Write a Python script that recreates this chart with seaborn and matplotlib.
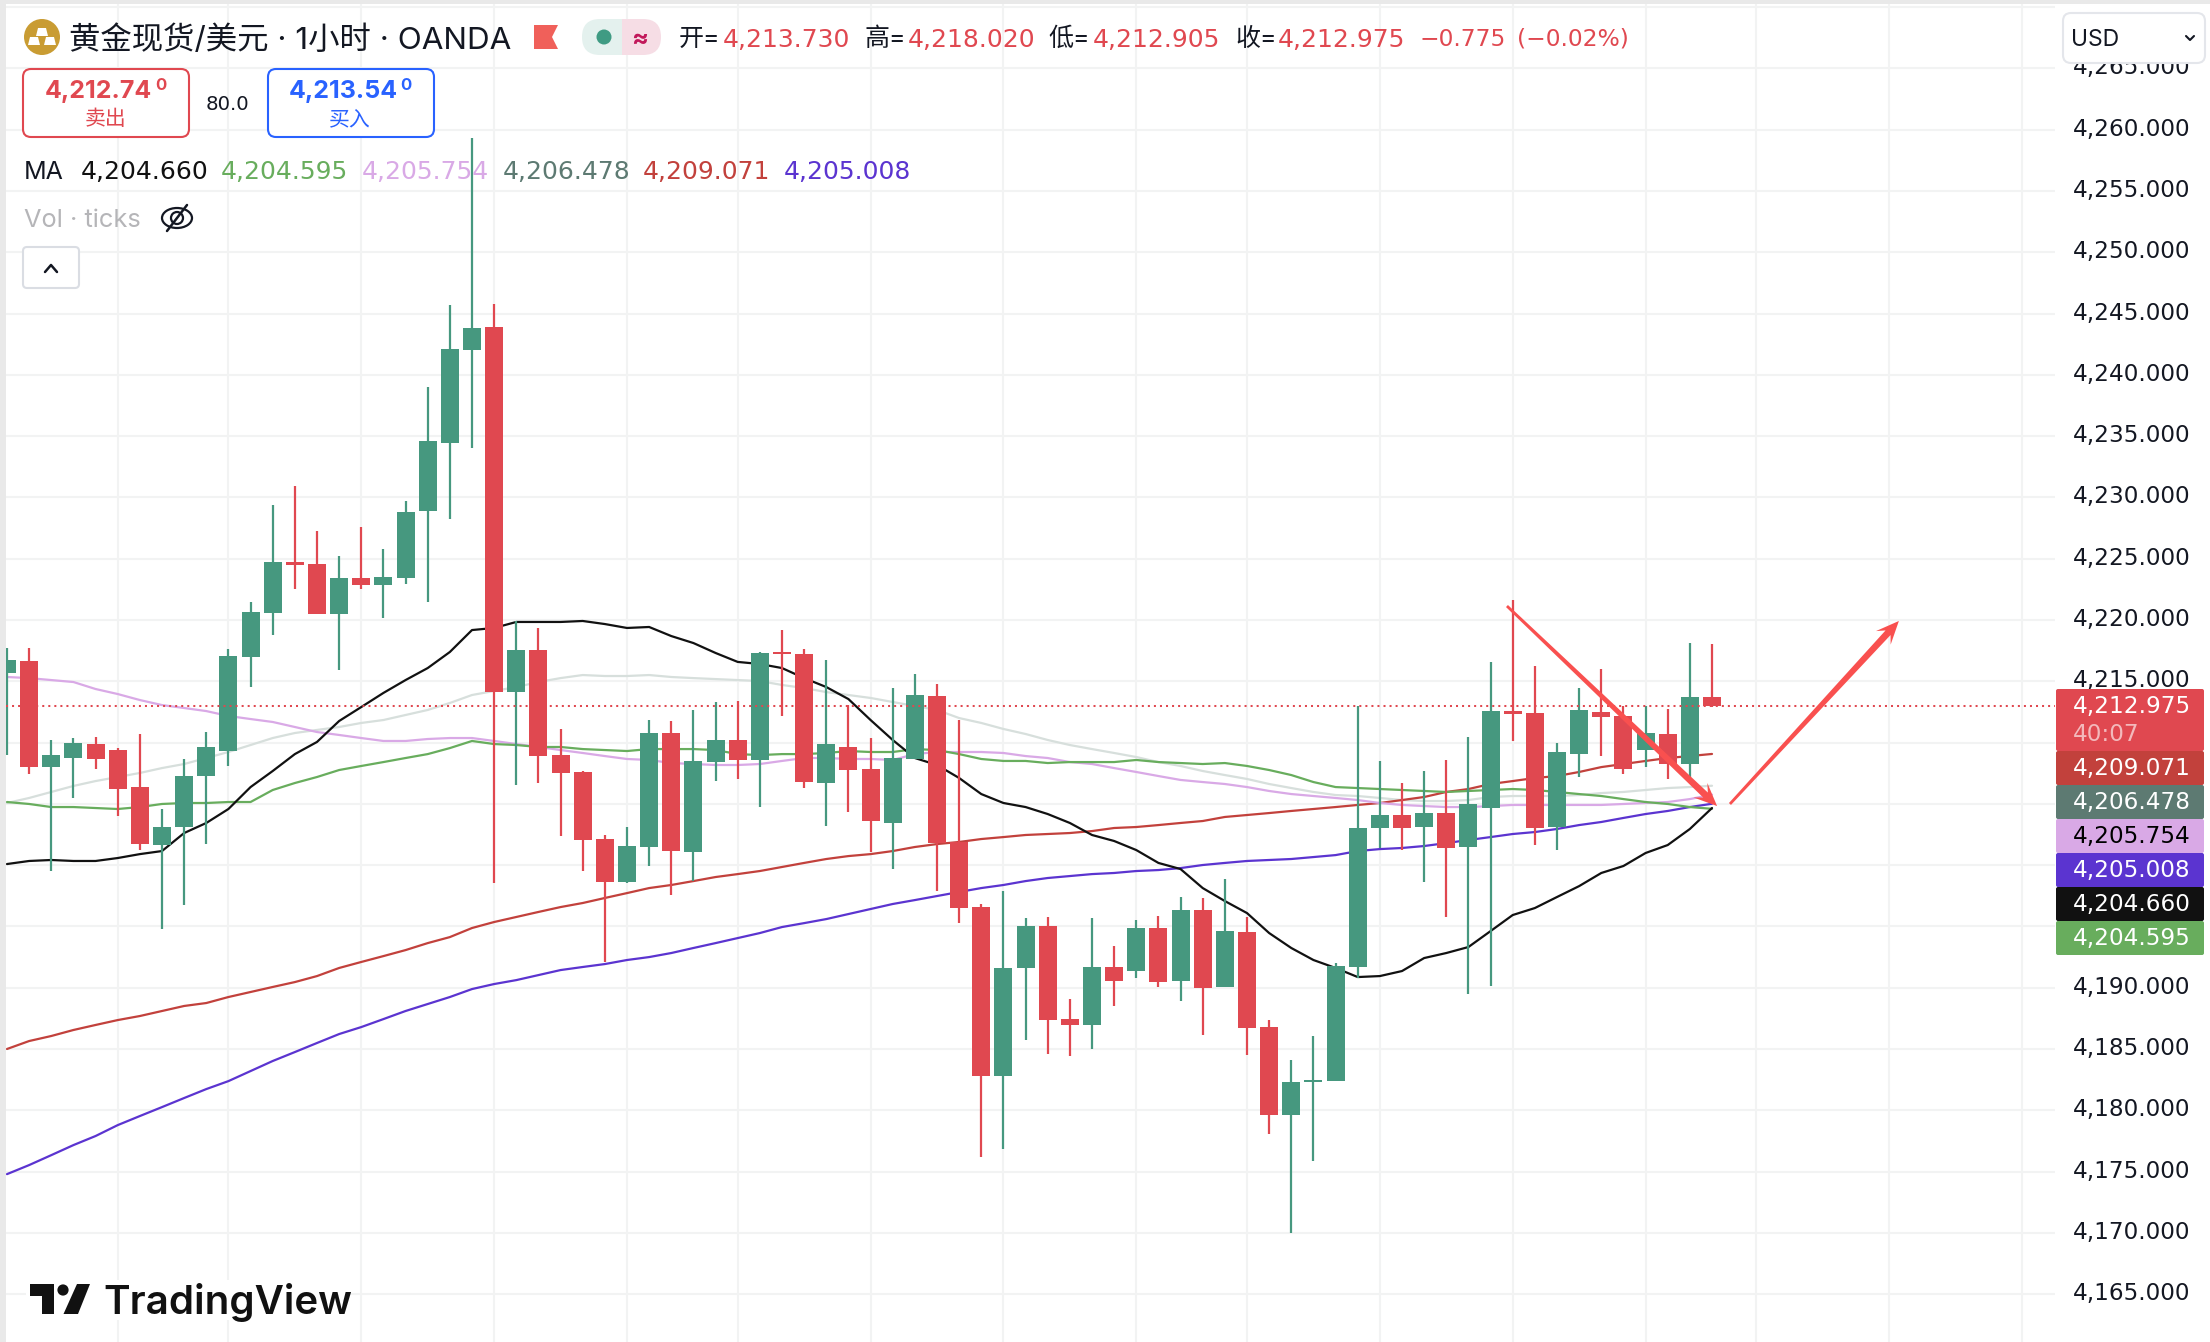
import numpy as np
import pandas as pd
import matplotlib
matplotlib.use("Agg")
import matplotlib.pyplot as plt
from matplotlib.patches import Rectangle, FancyBboxPatch, Circle, Ellipse, Polygon
from matplotlib.transforms import ScaledTranslation
import seaborn as sns

# ---------- data ----------
opens = [4215.67,4216.66,4208.00,4208.74,4209.88,4209.39,4206.37,4201.64,4203.11,4207.27,4209.31,4216.98,4220.57,4224.73,4224.57,4220.49,4223.42,4222.85,4223.42,4228.89,4234.44,4242.03,4243.90,4214.12,4217.55,4208.98,4207.60,4202.13,4198.62,4201.48,4210.78,4201.07,4208.41,4210.21,4208.58,4217.39,4217.23,4206.70,4209.64,4207.84,4203.44,4208.66,4213.80,4201.89,4196.58,4182.79,4191.61,4195.03,4187.44,4186.95,4191.69,4191.36,4194.87,4190.55,4196.34,4190.06,4194.54,4186.79,4179.61,4182.30,4182.38,4191.69,4203.03,4204.09,4203.11,4204.25,4201.48,4204.66,4212.57,4212.41,4203.11,4209.07,4212.49,4212.17,4209.39,4210.70,4208.25,4213.73]
highs = [4217.71,4217.71,4210.21,4210.37,4210.45,4209.55,4210.70,4204.58,4208.66,4210.86,4217.63,4221.47,4229.38,4230.93,4227.26,4225.22,4227.59,4225.79,4229.71,4239.01,4245.70,4259.33,4245.78,4219.92,4219.35,4211.11,4207.68,4202.46,4203.11,4211.84,4211.76,4212.66,4213.31,4213.39,4217.39,4219.18,4217.63,4216.74,4213.06,4210.37,4214.45,4215.59,4214.78,4211.84,4196.83,4197.89,4195.69,4195.77,4189.08,4195.69,4193.40,4195.52,4195.85,4197.40,4197.32,4198.87,4195.77,4187.36,4184.10,4186.06,4192.01,4212.98,4208.50,4206.70,4207.68,4208.58,4210.45,4216.58,4221.63,4216.25,4209.96,4214.45,4216.00,4212.98,4212.98,4212.73,4218.12,4218.02]
lows = [4208.98,4207.43,4199.52,4205.48,4207.84,4204.00,4201.23,4194.79,4196.75,4201.72,4208.09,4214.53,4218.78,4222.53,4220.49,4215.92,4222.53,4220.16,4222.94,4221.47,4228.24,4234.03,4198.54,4206.54,4206.70,4202.38,4199.52,4192.10,4198.54,4199.93,4197.56,4198.70,4206.86,4207.03,4204.74,4212.17,4206.29,4203.19,4204.33,4201.07,4199.68,4208.66,4197.89,4195.28,4176.19,4176.84,4185.73,4184.59,4184.43,4184.99,4188.51,4190.79,4190.06,4188.91,4186.14,4190.06,4184.51,4178.06,4169.98,4175.86,4182.38,4190.79,4201.40,4201.23,4198.62,4195.77,4189.48,4190.14,4210.13,4201.64,4201.23,4207.19,4208.90,4207.43,4208.00,4207.03,4207.19,4212.905]
closes = [4216.74,4208.00,4208.98,4209.96,4208.66,4206.21,4201.72,4203.11,4207.27,4209.64,4217.06,4220.65,4224.73,4224.49,4220.49,4223.42,4222.85,4223.51,4228.81,4234.60,4242.11,4243.82,4214.12,4217.55,4208.90,4207.52,4202.05,4198.62,4201.56,4210.78,4201.15,4208.50,4210.21,4208.58,4217.31,4217.23,4206.79,4209.88,4207.76,4203.60,4208.74,4213.88,4201.80,4196.50,4182.79,4191.61,4195.03,4187.36,4186.95,4191.69,4190.55,4194.87,4190.46,4196.34,4189.97,4194.62,4186.71,4179.61,4182.30,4182.47,4191.77,4203.03,4204.09,4203.03,4204.25,4201.40,4204.98,4212.57,4212.33,4203.03,4209.23,4212.66,4212.08,4207.84,4210.78,4208.25,4213.72,4212.975]

ma_black = [4200.09,4200.34,4200.42,4200.34,4200.34,4200.58,4200.90,4201.15,4202.62,4203.44,4204.58,4206.37,4207.68,4209.06,4210.05,4211.76,4212.90,4214.05,4215.10,4216.08,4217.39,4219.18,4219.35,4219.84,4219.84,4219.84,4219.92,4219.67,4219.35,4219.43,4218.69,4218.12,4217.31,4216.58,4216.41,4216.08,4215.26,4214.53,4213.55,4211.84,4210.21,4208.74,4208.17,4207.11,4205.80,4205.07,4204.74,4204.17,4203.44,4202.46,4201.97,4201.23,4200.18,4199.68,4198.13,4197.07,4196.09,4194.46,4193.24,4192.26,4191.61,4190.87,4190.95,4191.36,4192.42,4192.83,4193.32,4194.62,4195.93,4196.50,4197.40,4198.29,4199.36,4199.93,4200.99,4201.64,4202.95,4204.66]
ma_green = [4205.15,4204.99,4204.74,4204.74,4204.66,4204.58,4204.74,4204.99,4205.07,4205.07,4205.15,4205.15,4206.13,4206.70,4207.19,4207.76,4208.09,4208.41,4208.74,4209.06,4209.55,4210.13,4209.88,4209.80,4209.64,4209.64,4209.47,4209.39,4209.31,4209.47,4209.47,4209.47,4209.39,4209.06,4208.98,4209.06,4209.06,4209.15,4209.31,4209.23,4209.23,4209.47,4209.39,4209.06,4208.66,4208.50,4208.50,4208.33,4208.41,4208.41,4208.41,4208.58,4208.41,4208.33,4208.25,4208.33,4208.09,4207.76,4207.35,4206.78,4206.37,4206.29,4206.21,4206.13,4206.05,4205.97,4206.05,4206.13,4206.21,4206.13,4205.97,4205.80,4205.64,4205.39,4205.15,4204.99,4204.74,4204.595]
ma_pink = [4215.35,4215.26,4215.10,4214.94,4214.37,4213.96,4213.47,4213.06,4212.82,4212.57,4212.17,4211.92,4211.68,4211.27,4210.86,4210.62,4210.37,4210.13,4210.13,4210.29,4210.37,4210.37,4210.13,4209.88,4209.64,4209.39,4209.15,4208.90,4208.66,4208.58,4208.33,4208.25,4208.17,4208.17,4208.25,4208.50,4208.74,4208.74,4208.66,4208.66,4208.58,4209.06,4209.23,4209.23,4209.23,4209.15,4208.90,4208.74,4208.41,4208.25,4207.92,4207.60,4207.27,4206.95,4206.78,4206.62,4206.37,4206.05,4205.80,4205.64,4205.48,4205.31,4205.07,4204.91,4204.82,4204.74,4204.74,4204.82,4204.91,4204.91,4204.91,4204.91,4204.91,4204.99,4205.07,4205.15,4205.39,4205.754]
ma_grey = [4205.07,4205.48,4205.97,4206.46,4206.86,4207.19,4207.52,4207.92,4208.25,4208.74,4209.23,4209.80,4210.37,4210.78,4211.03,4211.27,4211.60,4211.84,4212.25,4212.66,4213.23,4213.88,4214.21,4214.53,4214.94,4215.26,4215.51,4215.43,4215.43,4215.51,4215.35,4215.26,4215.18,4215.10,4215.02,4214.70,4214.45,4214.12,4213.88,4213.64,4213.31,4212.98,4212.66,4212.00,4211.60,4211.11,4210.70,4210.21,4209.80,4209.47,4209.15,4208.82,4208.41,4208.09,4207.68,4207.35,4207.03,4206.62,4206.29,4205.97,4205.72,4205.64,4205.48,4205.31,4205.23,4205.23,4205.31,4205.56,4205.64,4205.64,4205.64,4205.72,4205.88,4205.97,4206.13,4206.29,4206.37,4206.478]
ma_red = [4185.00,4185.65,4186.06,4186.55,4186.96,4187.36,4187.69,4188.10,4188.51,4188.75,4189.24,4189.65,4190.06,4190.46,4190.95,4191.61,4192.10,4192.58,4193.07,4193.64,4194.13,4194.87,4195.36,4195.77,4196.18,4196.58,4196.91,4197.32,4197.72,4198.13,4198.38,4198.70,4199.03,4199.27,4199.52,4199.85,4200.18,4200.50,4200.74,4200.90,4201.15,4201.48,4201.72,4201.89,4202.13,4202.29,4202.46,4202.54,4202.62,4202.78,4203.03,4203.11,4203.27,4203.44,4203.60,4203.93,4204.09,4204.25,4204.42,4204.58,4204.74,4204.91,4205.07,4205.31,4205.56,4205.97,4206.21,4206.62,4206.86,4207.11,4207.27,4207.60,4208.00,4208.25,4208.50,4208.74,4208.90,4209.071]
ma_blue = [4174.79,4175.53,4176.34,4177.16,4177.90,4178.79,4179.53,4180.26,4181.00,4181.73,4182.38,4183.20,4184.02,4184.75,4185.49,4186.22,4186.79,4187.44,4188.10,4188.67,4189.24,4189.89,4190.30,4190.62,4191.03,4191.44,4191.69,4191.93,4192.26,4192.50,4192.83,4193.24,4193.64,4194.05,4194.46,4194.95,4195.27,4195.60,4196.01,4196.42,4196.83,4197.15,4197.48,4197.81,4198.13,4198.38,4198.70,4198.95,4199.11,4199.27,4199.36,4199.52,4199.60,4199.76,4200.01,4200.18,4200.34,4200.42,4200.50,4200.66,4200.82,4201.15,4201.31,4201.40,4201.56,4201.80,4202.05,4202.29,4202.54,4202.70,4202.95,4203.27,4203.52,4203.85,4204.17,4204.42,4204.74,4205.008]

price_ticks = [4165,4170,4175,4180,4185,4190,4195,4200,4205,4210,4215,4220,4225,4230,4235,4240,4245,4250,4255,4260,4265,4270]
hidden_ticks = [4195,4200,4205,4210,4270]
time_ticks = [5,10,16,22,28,33,39,45,51,56,62,68,74,79,85,91]
arrow_down = [(67.74,4221.14),(77.23,4204.82)]
arrow_up = [(77.81,4204.99),(85.44,4219.92)]
last_price = 4212.975

UP, DOWN, INK = "#46987F", "#E04850", "#131722"
MA_COLS = {"black":"#111111","green":"#68AD5D","pink":"#D9A9E6","grey":"#5D7A72","red":"#C2413C","blue":"#5B34D0"}
NUM = ["DejaVu Sans"]

# ---------- figure ----------
sns.set_theme(style="white")
plt.rcParams['font.family'] = ['Inter', 'Noto Sans CJK SC', 'DejaVu Sans']
W, H = 2210, 1342
fig = plt.figure(figsize=(W/100, H/100), dpi=100, facecolor="white")
ax = fig.add_axes([6/W, 0, (2055-6)/W, (H-4)/H])
ax.set_xlim(-0.045, 92.49)
ax.set_ylim(4161.095, 4270.257)
sns.despine(ax=ax, left=True, bottom=True, right=True, top=True)

df = pd.DataFrame({"i": np.arange(len(opens)), "o": opens, "h": highs, "l": lows, "c": closes})
df["col"] = np.where(df.c >= df.o, UP, DOWN)

ax.set_yticks(price_ticks)
ax.set_yticklabels(["" if p in hidden_ticks else f"{p:,.3f}" for p in price_ticks],
                   fontsize=16.7, color=INK, family=NUM)
ax.set_xticks(time_ticks)
ax.set_xticklabels([])
ax.yaxis.tick_right()
ax.tick_params(axis="both", length=0)
ax.tick_params(axis="y", pad=13)
ax.grid(True, color="#F2F3F3", lw=1.5, zorder=0)
ax.set_axisbelow(True)

ma_styles = [(ma_grey,"#D7DFDC"),(ma_blue,MA_COLS["blue"]),(ma_red,MA_COLS["red"]),
             (ma_pink,MA_COLS["pink"]),(ma_green,MA_COLS["green"]),(ma_black,MA_COLS["black"])]
for vals, col in ma_styles:
    sns.lineplot(x=df.i, y=vals, ax=ax, color=col, lw=1.6, estimator=None, sort=False, zorder=2, legend=False)
ax.set_xlabel(""); ax.set_ylabel("")

ax.vlines(df.i, df.l, df.h, colors=df.col, lw=1.6, zorder=3)
ax.bar(df.i, (df.c-df.o).abs(), bottom=df[["o","c"]].min(axis=1), width=0.813, color=df.col, lw=0, zorder=4)
ax.axhline(last_price, color=DOWN, lw=1.45, ls=(0,(1,2)), zorder=5)

# lift the axis labels slightly above their gridlines, as in the reference
lift = ScaledTranslation(0, 0.03, fig.dpi_scale_trans)
for lab in ax.get_yticklabels():
    lab.set_transform(lab.get_transform() + lift)

# ---------- overlay in pixel space ----------
ov = fig.add_axes([0, 0, 1, 1], zorder=10)
ov.set_xlim(0, W); ov.set_ylim(H, 0); ov.axis("off"); ov.patch.set_alpha(0)

def txt(x, y, s, color=INK, size=18, **kw):
    kw.setdefault("va", "center_baseline"); kw.setdefault("ha", "left")
    return ov.text(x, y, s, color=color, fontsize=size, **kw)

def rrect(x0, y0, x1, y1, r, fc, ec="none", lw=0, z=1):
    p = FancyBboxPatch((x0+r, y0+r), x1-x0-2*r, y1-y0-2*r, boxstyle=f"round,pad={r},rounding_size={r}",
                       fc=fc, ec=ec, lw=lw, zorder=z, mutation_aspect=1)
    ov.add_patch(p); return p

# window frame
ov.add_patch(Rectangle((0,0), 6, H, fc="#E9E9E9", ec="none"))
ov.add_patch(Rectangle((0,0), W, 4, fc="#E9E9E9", ec="none"))

# arrows
def to_ov(pts):
    d = ax.transData.transform(pts)
    d[:,1] = H - d[:,1]
    return d
def tapered(points, col="#F9504F"):
    (a, b) = to_ov(points)
    u = (b-a)/np.hypot(*(b-a)); n = np.array([-u[1], u[0]])
    hl, hw, notch, ws, we = 23, 10, 16, 1.4, 3.4
    poly = [a+n*ws, b-u*notch+n*we, b-u*hl+n*hw, b, b-u*hl-n*hw, b-u*notch-n*we, a-n*ws]
    ov.add_patch(Polygon(poly, closed=True, fc=col, ec="none", zorder=3))
tapered(arrow_down); tapered(arrow_up)

# header
ov.add_patch(Circle((42,37), 18, fc="#C99C33", ec="none"))
for cx, cy in [(42,32),(34,41),(50,41)]:
    ov.add_patch(Polygon([(cx-4,cy-4),(cx+4,cy-4),(cx+6,cy+4),(cx-6,cy+4)], fc="white", ec="none"))
txt(69, 37, "黄金现货/美元 · 1小时 · OANDA", size=22.6)
ov.add_patch(Polygon([(534,25),(558,25),(552,37),(558,49),(534,49)], fc="#F0605A", ec="none"))
lp = rrect(582,19,661,55,18,"#E4F1EE"); lp.set_clip_path(Rectangle((582,19),40,36,transform=ov.transData))
rp = rrect(582,19,661,55,18,"#F6DDE5"); rp.set_clip_path(Rectangle((622,19),39,36,transform=ov.transData))
ov.add_patch(Circle((604,37), 7.5, fc="#3F9B83", ec="none", zorder=2))
txt(640, 37, "≈", color="#C2185B", size=18, ha="center", fontweight="bold", zorder=2)
for x, s, c in [(679,"开=",INK),(864,"高=",INK),(1048,"低=",INK),(1235,"收=",INK)]:
    txt(x, 37, s, color=c, size=18)
for x, s, sz in [(723,"4,213.730",18),(908,"4,218.020",18),(1093,"4,212.905",18),(1278,"4,212.975",18),
                 (1419,"−0.775",16.8),(1517,"(−0.02%)",16.8)]:
    txt(x, 37, s, color=DOWN, size=sz, family=NUM)

# sell / buy
rrect(23,69,189,137,8,"white",ec=DOWN,lw=1.5)
rrect(268,69,434,137,8,"white",ec="#2962FF",lw=1.5)
txt(45, 89, "4,212.74", color=DOWN, size=18, fontweight="bold")
txt(155, 84, "0", color=DOWN, size=12, fontweight="bold")
txt(105, 117, "卖出", color=DOWN, size=15, ha="center")
txt(206, 103, "80.0", size=14.2, family=NUM)
txt(289, 89, "4,213.54", color="#2962FF", size=18, fontweight="bold")
txt(400, 84, "0", color="#2962FF", size=12, fontweight="bold")
txt(350, 117, "买入", color="#2962FF", size=15, ha="center")

# MA row
txt(24, 170, "MA", size=18)
for x, s, c in [(81,"4,204.660",MA_COLS["black"]),(221,"4,204.595",MA_COLS["green"]),(362,"4,205.754",MA_COLS["pink"]),
                (503,"4,206.478",MA_COLS["grey"]),(643,"4,209.071",MA_COLS["red"]),(784,"4,205.008",MA_COLS["blue"])]:
    txt(x, 170, s, color=c, size=18, family=NUM)

# volume row
txt(24, 218, "Vol · ticks", color="#B5B5B8", size=18.3)
ov.add_patch(Ellipse((177,218), 30, 20, angle=0, fc="none", ec=INK, lw=1.6))
ov.add_patch(Circle((177,218), 6, fc="none", ec=INK, lw=1.6))
ov.plot([167,187],[231,205], color=INK, lw=1.8)

# collapse button
rrect(23,247,79,288,4,"white",ec="#DADDE3",lw=1.5)
ov.plot([45,51,57],[272,265,272], color=INK, lw=1.8)

# currency selector
rrect(2063,13,2205,63,8,"white",ec="#E4E6EB",lw=1.5)
txt(2071, 38, "USD", size=16.5)
ov.plot([2186,2190,2194],[36,40,36], color=INK, lw=1.5)

# price labels
boxes = [(689,751,DOWN,"4,212.975",704,"white"),(751,785,MA_COLS["red"],"4,209.071",766,"white"),
         (785,819,MA_COLS["grey"],"4,206.478",800,"white"),(819,853,MA_COLS["pink"],"4,205.754",834,"black"),
         (853,887,MA_COLS["blue"],"4,205.008",868,"white"),(887,921,MA_COLS["black"],"4,204.660",902,"white"),
         (921,955,MA_COLS["green"],"4,204.595",936,"white")]
for y0, y1, c, s, yc, tc in boxes:
    rrect(2056, y0, 2204, y1, 2, c, z=4)
    txt(2073, yc, s, color=tc, size=16.7, zorder=5, family=NUM)
txt(2073, 732, "40:07", color="#F3B9BC", size=16.7, zorder=5, family=NUM)

# logo
ov.add_patch(Rectangle((26,1280), 321, 40, fc="white", ec="none", zorder=1))
ov.add_patch(Polygon([(30,1284),(54,1284),(54,1314),(42,1314),(42,1296),(30,1296)], fc="#111111", ec="none", zorder=2))
ov.add_patch(Circle((63,1290), 5.6, fc="#111111", ec="none", zorder=2))
ov.add_patch(Polygon([(77,1284),(90,1284),(78,1314),(63.5,1314)], fc="#111111", ec="none", zorder=2))
ov.text(103, 1314, "TradingView", color="#111111", fontsize=29, fontweight="semibold", va="baseline", ha="left",
        family=["Inter","DejaVu Sans"], zorder=2)

fig.savefig("out.png", dpi=100, facecolor="white")
